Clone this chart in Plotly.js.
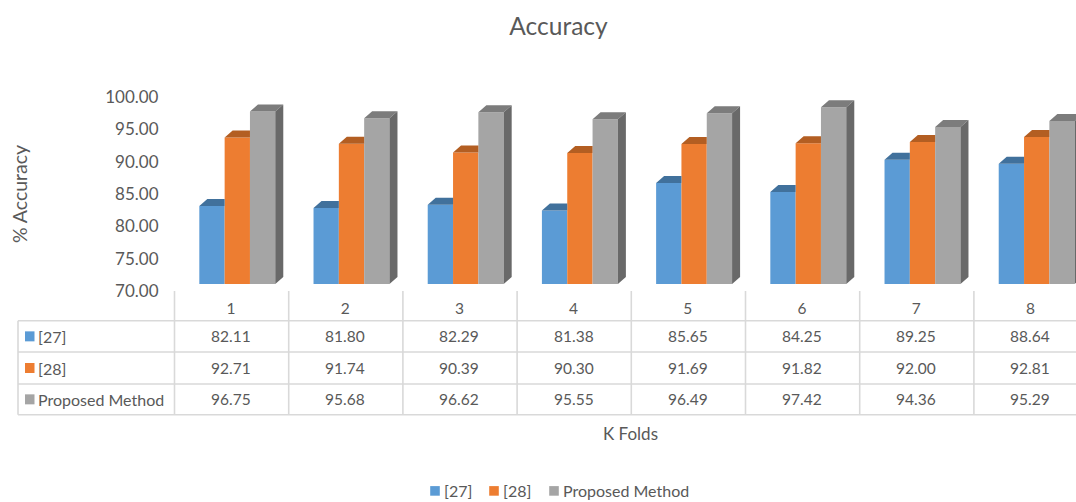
<!DOCTYPE html>
<html>
<head>
<meta charset="utf-8">
<script src="https://cdn.plot.ly/plotly-3.0.1.min.js"></script>
<style>html,body{margin:0;padding:0;background:#fff;overflow:hidden}#chart{width:1076px;height:502px}</style>
</head>
<body>
<div id="chart"></div>
<script>
const folds = [1, 2, 3, 4, 5, 6, 7, 8];
const seriesNames = ['[27]', '[28]', 'Proposed Method'];
const values27 = [82.11, 81.80, 82.29, 81.38, 85.65, 84.25, 89.25, 88.64];
const values28 = [92.71, 91.74, 90.39, 90.30, 91.69, 91.82, 92.00, 92.81];
const valuesProposed = [96.75, 95.68, 96.62, 95.55, 96.49, 97.42, 94.36, 95.29];
const frontColors = ['#5B9BD5', '#ED7D31', '#A5A5A5'];
const topColors = ['#41719C', '#B35E22', '#7C7C7C'];
const sideColor = '#696969';
const textColor = '#595959';
const gridColor = '#D9D9D9';
const fontName = 'Lato, sans-serif';

const W = 1076, H = 502;
const px = v => v / W, py = v => 1 - v / H;
const allSeries = [values27, values28, valuesProposed];

const pitch = 114.2;
const barLeft = 174, tabLeft = 185;
const barRange = [1 + (barLeft - 237.3) / pitch, 1 + (W - 237.3) / pitch];
const tabRange = [1 + (tabLeft - 231) / pitch, 1 + (W - 231) / pitch];

const barW = 0.2217;
const depthX = 8 / pitch;
const pxPerUnit = 6.45;
const depthY = 7 / pxPerUnit;
const base = 70;
const legendIds = ['legend', 'legend2', 'legend3'];
const legendLefts = [404, 463, 523];

const traces = [];
allSeries.forEach((vals, s) => {
  traces.push({
    type: 'bar', name: seriesNames[s], x: folds, y: vals, legend: legendIds[s],
    marker: {color: frontColors[s], line: {width: 0}},
    xaxis: 'x', yaxis: 'y', hoverinfo: 'x+y+name'
  });
});
allSeries.forEach((vals, s) => {
  const xs = [], ys = [];
  vals.forEach((v, i) => {
    const x0 = folds[i] + (s - 1.5) * barW, x1 = x0 + barW;
    const farX = s === 2 ? x1 + depthX : x1;
    xs.push(x0, x1, farX, x0 + depthX, x0, null);
    ys.push(v, v, v + depthY, v + depthY, v, null);
  });
  traces.push({type: 'scatter', mode: 'lines', x: xs, y: ys, fill: 'toself',
    fillcolor: topColors[s], line: {width: 0, color: topColors[s]},
    showlegend: false, hoverinfo: 'skip', xaxis: 'x', yaxis: 'y'});
});
{
  const xs = [], ys = [];
  valuesProposed.forEach((v, i) => {
    const x1 = folds[i] + 1.5 * barW;
    xs.push(x1, x1 + depthX, x1 + depthX, x1, x1, null);
    ys.push(base, base + depthY, v + depthY, v, base, null);
  });
  traces.push({type: 'scatter', mode: 'lines', x: xs, y: ys, fill: 'toself',
    fillcolor: sideColor, line: {width: 0, color: sideColor},
    showlegend: false, hoverinfo: 'skip', xaxis: 'x', yaxis: 'y'});
}
traces.push({type: 'scatter', mode: 'markers', x: folds, y: valuesProposed,
  marker: {opacity: 0, size: 1}, showlegend: false, hoverinfo: 'skip', xaxis: 'x2', yaxis: 'y2'});

const rowLines = [320.7, 352, 384, 414.7];
const colLines = folds.map(f => 174.5 + (f - 1) * pitch);
const shapes = [], annotations = [];
const line = (x0, y0, x1, y1) => shapes.push({type: 'line', xref: 'paper', yref: 'paper',
  x0: px(x0), x1: px(x1), y0: py(y0), y1: py(y1), line: {color: gridColor, width: 1.6}});
rowLines.forEach(y => line(18, y, W, y));
line(18, rowLines[0], 18, rowLines[3]);
colLines.forEach(x => line(x, 291, x, rowLines[3]));
seriesNames.forEach((name, s) => {
  const yc = (rowLines[s] + rowLines[s + 1]) / 2;
  shapes.push({type: 'rect', xref: 'paper', yref: 'paper', x0: px(25), x1: px(34.5),
    y0: py(yc - 5), y1: py(yc + 5), fillcolor: frontColors[s], line: {width: 0}});
  annotations.push({text: name, xref: 'paper', yref: 'paper', x: px(36), y: py(yc),
    xanchor: 'left', yanchor: 'middle', showarrow: false, font: {family: fontName, size: 16, color: textColor}});
  allSeries[s].forEach((v, i) => {
    annotations.push({text: v.toFixed(2), xref: 'x2', yref: 'paper', x: folds[i], y: py(yc),
      xanchor: 'center', yanchor: 'middle', showarrow: false, font: {family: fontName, size: 15.5, color: textColor}});
  });
});

const layout = {
  width: W, height: H,
  margin: {l: 0, r: 0, t: 0, b: 0, autoexpand: false},
  paper_bgcolor: '#fff', plot_bgcolor: 'rgba(0,0,0,0)',
  font: {family: fontName, color: textColor},
  title: {text: 'Accuracy', x: px(558.5), xref: 'paper', xanchor: 'center', y: py(26.5), yref: 'paper', yanchor: 'middle',
    font: {family: fontName, size: 24.5, color: textColor}},
  barmode: 'group', bargap: 1 - 3 * barW, bargroupgap: 0,
  xaxis: {domain: [px(barLeft), 1], range: barRange, showticklabels: false, ticks: '', showgrid: false, zeroline: false, showline: false, fixedrange: true},
  yaxis: {domain: [py(284), py(90)], range: [base, base + 194 / pxPerUnit], showticklabels: false, ticks: '', showgrid: false, zeroline: false, showline: false, fixedrange: true},
  xaxis2: {domain: [px(tabLeft), 1], range: tabRange, anchor: 'y2', tickmode: 'array', tickvals: folds, ticktext: folds.map(String),
    ticks: '', showgrid: false, zeroline: false, showline: false, ticklabelstandoff: 6, tickfont: {family: fontName, size: 15.5, color: textColor},
    title: {text: 'K Folds', font: {family: fontName, size: 17, color: textColor}, standoff: 112}, fixedrange: true},
  yaxis2: {domain: [py(291), py(97)], range: [70, 100], anchor: 'free', position: px(158.5), dtick: 5, tickformat: '.2f',
    ticks: '', showgrid: false, zeroline: false, showline: false, tickfont: {family: fontName, size: 17, color: textColor},
    title: {text: '% Accuracy', font: {family: fontName, size: 19.5, color: textColor}, standoff: 71}, fixedrange: true},
  shapes, annotations,
  showlegend: true
};
legendIds.forEach((id, s) => {
  layout[id] = {orientation: 'h', x: px(legendLefts[s]), xanchor: 'left', y: 0, yanchor: 'bottom',
    font: {family: fontName, size: 16, color: textColor}, bgcolor: 'rgba(0,0,0,0)'};
});
Plotly.newPlot('chart', traces, layout, {displayModeBar: false, responsive: false}).then(gd => {
  gd.querySelectorAll('.legendsymbols').forEach(g => g.setAttribute('transform', 'translate(11,0)'));
  gd.querySelectorAll('.legendsymbols path').forEach(p => {
    p.setAttribute('transform', (p.getAttribute('transform') || '') + ' scale(0.8)');
  });
  // settle the legend row on the page's lower edge, as in the reference
  gd.querySelectorAll('g.legend, g.legend2, g.legend3').forEach(g => {
    const m = /translate\(([-\d.]+)[, ]+([-\d.]+)\)/.exec(g.getAttribute('transform') || '');
    if (m) g.setAttribute('transform', 'translate(' + m[1] + ',' + (parseFloat(m[2]) + 6) + ')');
  });
});
</script>
</body>
</html>
